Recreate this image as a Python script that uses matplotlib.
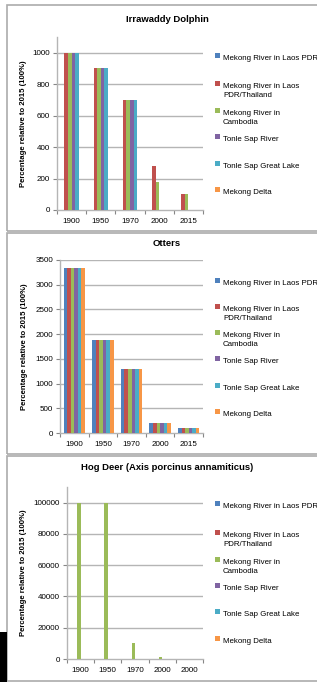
import matplotlib
matplotlib.use("Agg")
import matplotlib.pyplot as plt
from matplotlib.patches import Rectangle
import numpy as np

W, H = 317, 682

series = ["Mekong River in Laos PDR", "Mekong River in Laos\nPDR/Thailand",
          "Mekong River in\nCambodia", "Tonle Sap River",
          "Tonle Sap Great Lake", "Mekong Delta"]
colors = ["#4F81BD", "#C0504D", "#9BBB59", "#8064A2", "#4BACC6", "#F79646"]

years_dolphin = ["1900", "1950", "1970", "2000", "2015"]
dolphin_laos = [0, 0, 0, 0, 0]
dolphin_laos_thai = [1000, 900, 700, 280, 100]
dolphin_cambodia = [1000, 900, 700, 175, 100]
dolphin_tonle_river = [1000, 900, 700, 0, 0]
dolphin_tonle_lake = [1000, 900, 700, 0, 0]
dolphin_delta = [0, 0, 0, 0, 0]

years_otters = ["1900", "1950", "1970", "2000", "2015"]
otters_laos = [3330, 1880, 1300, 200, 100]
otters_laos_thai = [3330, 1880, 1300, 200, 100]
otters_cambodia = [3330, 1880, 1300, 200, 100]
otters_tonle_river = [3330, 1880, 1300, 200, 100]
otters_tonle_lake = [3330, 1880, 1300, 200, 100]
otters_delta = [3330, 1880, 1300, 200, 100]

years_deer = ["1900", "1950", "1970", "2000", "2000"]
deer_laos = [0, 0, 0, 0, 0]
deer_laos_thai = [0, 0, 0, 0, 0]
deer_cambodia = [100000, 100000, 10000, 1000, 100]
deer_tonle_river = [0, 0, 0, 0, 0]
deer_tonle_lake = [0, 0, 0, 0, 0]
deer_delta = [0, 0, 0, 0, 0]

FONT = "Liberation Sans"
plt.rcParams["font.family"] = [FONT, "DejaVu Sans"]

fig = plt.figure(figsize=(W / 100, H / 100), dpi=100)
fig.patch.set_facecolor("white")

TICK_FS = 5.8
LEG_FS = 5.7


def px_rect(l, t, r, b):
    return [l / W, 1 - b / H, (r - l) / W, (b - t) / H]


def fx(x):
    return x / W


def fy(y):
    return 1 - y / H


def panel(title, cats, data, ylim, yticks, border, axrect, title_y, legend_ys, ylab_x):
    l, t, r, b = border
    fig.add_artist(Rectangle((fx(l), fy(b)), fx(r) - fx(l), fy(t) - fy(b),
                             transform=fig.transFigure, fill=False,
                             edgecolor="#ABABAB", linewidth=1.2))
    ax = fig.add_axes(px_rect(*axrect))
    x = np.arange(len(cats))
    n = len(data)
    w = 0.125
    for i, vals in enumerate(data):
        ax.bar(x + (i - (n - 1) / 2) * w, vals, width=w, color=colors[i],
               edgecolor="none", zorder=3)
    ax.set_xlim(-0.5, len(cats) - 0.5)
    ax.set_ylim(*ylim)
    ax.set_yticks(yticks)
    ax.set_yticklabels([str(v) for v in yticks], fontsize=TICK_FS)
    ax.set_xticks(x)
    ax.set_xticklabels(cats, fontsize=TICK_FS)
    ax.set_xticks(np.arange(len(cats) + 1) - 0.5, minor=True)
    ax.tick_params(axis="x", which="major", length=0, pad=6)
    ax.tick_params(axis="x", which="minor", length=3, color="#868686", width=0.8)
    ax.tick_params(axis="y", length=3, color="#868686", width=0.8, pad=2)
    for yv in yticks[1:]:
        ax.axhline(yv, color="#B5B5B5", linewidth=1.0, zorder=1)
    for s in ["top", "right"]:
        ax.spines[s].set_visible(False)
    ax.spines["left"].set_color("#B5B5B5")
    ax.spines["bottom"].set_color("#B5B5B5")
    ax.spines["left"].set_linewidth(1.0)
    ax.spines["bottom"].set_linewidth(1.0)
    ax.set_facecolor("none")
    fig.text(fx(167), fy(title_y), title,
             ha="center", va="center", fontsize=6.8, fontweight="bold")
    fig.text(fx(ylab_x), fy((axrect[1] + axrect[3]) / 2),
             "Percentage relative to 2015 (100%)", rotation=90,
             ha="center", va="center", fontsize=5.6, fontweight="bold")
    for i, (lab, ly) in enumerate(zip(series, legend_ys)):
        fig.add_artist(Rectangle((fx(215), fy(ly + 2.5)), fx(4.5), 4.5 / H,
                                 transform=fig.transFigure, facecolor=colors[i],
                                 edgecolor="none"))
        fig.text(fx(223), fy(ly), lab, ha="left", va="top", fontsize=LEG_FS,
                 linespacing=1.35)
    return ax


panel("Irrawaddy Dolphin", years_dolphin,
      [dolphin_laos, dolphin_laos_thai, dolphin_cambodia, dolphin_tonle_river,
       dolphin_tonle_lake, dolphin_delta],
      (0, 1100), [0, 200, 400, 600, 800, 1000],
      (7, 5, 330, 231), (57, 37, 203, 210), 19,
      [55, 83, 110, 136, 163, 189], 24)

panel("Otters", years_otters,
      [otters_laos, otters_laos_thai, otters_cambodia, otters_tonle_river,
       otters_tonle_lake, otters_delta],
      (0, 3500), [0, 500, 1000, 1500, 2000, 2500, 3000, 3500],
      (7, 233, 330, 454), (60, 260, 203, 433), 243,
      [280, 306, 332, 358, 385, 411], 25)

panel("Hog Deer (Axis porcinus annamiticus)", years_deer,
      [deer_laos, deer_laos_thai, deer_cambodia, deer_tonle_river,
       deer_tonle_lake, deer_delta],
      (0, 110000), [0, 20000, 40000, 60000, 80000, 100000],
      (7, 456, 330, 681), (67, 487, 203, 659), 468,
      [503, 532, 559, 585, 611, 638], 24)

fig.add_artist(Rectangle((0, fy(682)), fx(7), (682 - 632) / H,
                         transform=fig.transFigure, facecolor="black",
                         edgecolor="none"))

fig.savefig("out.png", dpi=100, facecolor="white")
